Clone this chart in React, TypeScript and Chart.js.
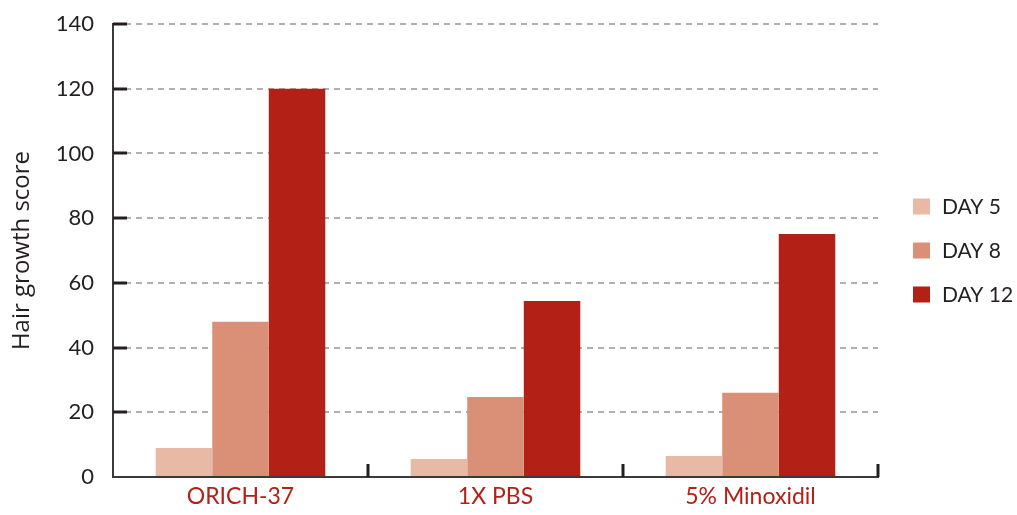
import React, { useEffect, useRef } from 'react';
import { Chart, registerables } from 'chart.js';

Chart.register(...registerables);

const categories = ['ORICH-37', '1X PBS', '5% Minoxidil'];
const seriesLabels = ['DAY 5', 'DAY 8', 'DAY 12'];
const day5 = [9, 5.6, 6.5];
const day8 = [48, 24.7, 26];
const day12 = [120, 54.4, 75.1];
const seriesColors = ['#E8B9A4', '#D99076', '#B22016'];
const yMin = 0;
const yMax = 140;
const yStep = 20;
const yTitle = 'Hair growth score';

const TICK_FONT = 'Lato, "Noto Sans", sans-serif';

const innerTicks = {
  id: 'innerTicks',
  afterDatasetsDraw(chart: any) {
    const { ctx, chartArea, scales } = chart;
    const x = scales.x;
    const y = scales.y;
    ctx.save();
    ctx.strokeStyle = '#231F20';
    ctx.lineWidth = 3;
    y.ticks.forEach((t: any) => {
      if (t.value === yMin) return;
      const py = Math.round(y.getPixelForValue(t.value));
      ctx.beginPath();
      ctx.moveTo(chartArea.left, py);
      ctx.lineTo(chartArea.left + 14, py);
      ctx.stroke();
    });
    for (let i = 0; i < categories.length; i++) {
      const px = Math.round(x.getPixelForValue(i + 0.5));
      ctx.beginPath();
      ctx.moveTo(px, chartArea.bottom);
      ctx.lineTo(px, chartArea.bottom - 13);
      ctx.stroke();
    }
    ctx.restore();
  },
};

const sideLegend = {
  id: 'sideLegend',
  afterDraw(chart: any) {
    const { ctx, chartArea } = chart;
    const midY = (chartArea.top + chartArea.bottom) / 2;
    const gap = 44;
    ctx.save();
    ctx.font = '21px ' + TICK_FONT;
    ctx.textBaseline = 'middle';
    ctx.textAlign = 'left';
    chart.data.datasets.forEach((ds: any, i: number) => {
      const cy = midY + (i - (chart.data.datasets.length - 1) / 2) * gap;
      ctx.fillStyle = ds.backgroundColor;
      ctx.fillRect(913, cy - 8, 17, 16);
      ctx.fillStyle = '#231F20';
      ctx.fillText(ds.label, 942, cy + 1);
    });
    ctx.restore();
  },
};

export default function App() {
  const canvasRef = useRef<HTMLCanvasElement | null>(null);

  useEffect(() => {
    document.body.style.margin = '0';
    const canvas = canvasRef.current;
    if (!canvas) return;
    const chart = new Chart(canvas, {
      type: 'bar',
      data: {
        labels: categories,
        datasets: [day5, day8, day12].map((d, i) => ({
          label: seriesLabels[i],
          data: d,
          backgroundColor: seriesColors[i],
          borderWidth: 0,
          barPercentage: 1,
          categoryPercentage: 0.665,
        })),
      },
      options: {
        responsive: false,
        animation: false,
        layout: { padding: { top: 24, right: 139, left: 0, bottom: 0 } },
        plugins: {
          legend: { display: false },
          tooltip: { enabled: false },
        },
        scales: {
          x: {
            offset: true,
            grid: { display: false, drawTicks: false },
            border: { display: true, color: '#3a3a3a', width: 2 },
            ticks: {
              color: '#B22016',
              font: { family: TICK_FONT, size: 23 },
              padding: 6,
            },
            afterFit(scale: any) {
              scale.height = 38;
              scale.paddingLeft = 0;
              scale.paddingRight = 0;
            },
          },
          y: {
            min: yMin,
            max: yMax,
            ticks: {
              stepSize: yStep,
              color: '#231F20',
              font: { family: TICK_FONT, size: 22 },
              padding: 19,
            },
            grid: {
              color: '#B0B0B0',
              lineWidth: 2,
              drawTicks: false,
            },
            border: { display: true, color: '#3a3a3a', width: 2, dash: [6, 5] },
            title: {
              display: true,
              text: yTitle,
              color: '#231F20',
              font: { family: '"Open Sans", sans-serif', size: 24 },
              padding: { top: 8, bottom: 0 },
            },
            afterFit(scale: any) {
              scale.width = 113;
              scale.paddingTop = 0;
              scale.paddingBottom = 0;
            },
          },
        },
      },
      plugins: [innerTicks, sideLegend],
    });
    return () => chart.destroy();
  }, []);

  return (
    <div style={{ width: 1017, height: 515 }}>
      <canvas ref={canvasRef} width={1017} height={515} />
    </div>
  );
}
